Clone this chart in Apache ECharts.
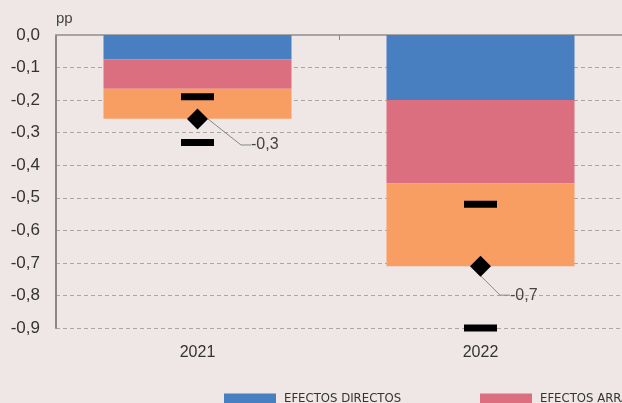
<!DOCTYPE html>
<html>
<head>
<meta charset="utf-8">
<script src="https://cdn.jsdelivr.net/npm/echarts@6/dist/echarts.min.js"></script>
<style>
  html, body { margin: 0; padding: 0; background: #efe6e6; }
  #chart { width: 622px; height: 403px; }
</style>
</head>
<body>
<div id="chart"></div>
<script>
// datos
const years = ['2021', '2022'];
const seriesNames = ['EFECTOS DIRECTOS', 'EFECTOS ARRASTRE', 'EFECTOS INDIRECTOS'];
const directos = [-0.075, -0.2];
const arrastre = [-0.09, -0.255];
const indirectos = [-0.092, -0.255];
const total = [-0.258, -0.71];
const rangoSup = [-0.19, -0.52];
const rangoInf = [-0.33, -0.9];
const yTicks = { min: -0.9, max: 0, interval: 0.1 };

const colors = ['#487fc0', '#db6e7f', '#f89e63'];
const fmt = v => v.toFixed(1).replace('.', ',');
const font = '"Liberation Sans", Arial, sans-serif';
const legendFont = '"Liberation Sans Narrow", "DejaVu Sans Condensed", sans-serif';

const chart = echarts.init(document.getElementById('chart'));

const barSeries = [directos, arrastre, indirectos].map((vals, i) => ({
    name: seriesNames[i],
    type: 'bar',
    stack: 'total',
    barWidth: 188,
    data: vals,
    itemStyle: { color: colors[i] },
}));

// una leyenda por serie, separadas 256 px (la tercera queda fuera del recorte)
const legends = seriesNames.map((name, i) => ({
    data: [name],
    left: 219 + i * 256,
    top: 387,
    itemWidth: 52,
    itemHeight: 10,
    icon: 'rect',
    textStyle: {
        fontFamily: legendFont,
        fontSize: 13,
        color: '#333',
        padding: [0, 0, 0, 3],
    },
}));

const marker = (name, symbol, size, data, z) => ({
    name,
    type: 'scatter',
    symbol,
    symbolSize: size,
    itemStyle: { color: '#000', opacity: 1 },
    data,
    z,
});

const totalSeries = marker('TOTAL', 'diamond', 21, total, 6);
totalSeries.label = {
    show: true,
    position: 'right',
    distance: 5,
    fontFamily: font,
    fontSize: 16,
    color: '#444',
    formatter: p => fmt(p.value),
};
totalSeries.labelLayout = p => (p.dataIndex === 0 ? { dx: 38, dy: 26 } : { dx: 14, dy: 29 });
totalSeries.labelLine = { show: true, length2: 10, lineStyle: { color: '#888', width: 1 } };

const option = {
    backgroundColor: '#efe6e6',
    animation: false,
    title: {
        text: 'pp',
        left: 51,
        top: 6,
        textStyle: { fontFamily: font, fontSize: 15, fontWeight: 'normal', color: '#444' },
    },
    legend: legends,
    grid: { left: 56, right: 0, top: 35, bottom: 75 },
    xAxis: [
        {
            type: 'category',
            data: years,
            position: 'bottom',
            axisLine: { show: false },
            axisTick: { show: false },
            axisLabel: { fontFamily: font, fontSize: 16, color: '#333', margin: 17 },
        },
        {
            type: 'category',
            data: years,
            position: 'top',
            axisLine: { show: true, lineStyle: { color: '#a8a4a4', width: 2 } },
            axisTick: { show: true, inside: true, length: 5, lineStyle: { color: '#888' } },
            axisLabel: { show: false },
        },
    ],
    yAxis: {
        type: 'value',
        min: yTicks.min,
        max: yTicks.max,
        interval: yTicks.interval,
        axisLine: { show: true, lineStyle: { color: '#8a8788', width: 2 } },
        axisTick: { show: false },
        axisLabel: {
            fontFamily: font,
            fontSize: 17,
            color: '#333',
            margin: 16,
            formatter: v => fmt(v),
        },
        splitLine: { lineStyle: { color: '#aaa6a6', type: [4, 3], width: 1 } },
    },
    series: [
        ...barSeries,
        marker('RANGO', 'rect', [33, 7], rangoSup, 5),
        marker('RANGO', 'rect', [33, 7], rangoInf, 5),
        totalSeries,
    ],
};

chart.setOption(option);
</script>
</body>
</html>
